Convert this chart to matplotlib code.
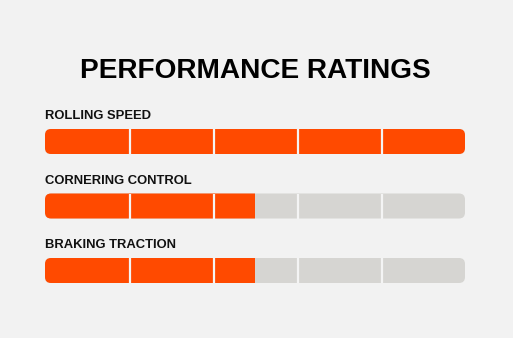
import matplotlib
matplotlib.use('Agg')
import matplotlib.pyplot as plt
from matplotlib.patches import FancyBboxPatch, Rectangle

# data
labels = ['ROLLING SPEED', 'CORNERING CONTROL', 'BRAKING TRACTION']
ratings = [5, 2.5, 2.5]
max_rating = 5
title = 'PERFORMANCE RATINGS'

BG = '#f2f2f2'
ORANGE = '#ff4a00'
TRACK = '#d6d5d2'

W, H = 513, 338
fig = plt.figure(figsize=(W / 100, H / 100), dpi=100)
fig.patch.set_facecolor(BG)

# axes spans the bar area horizontally; y in pixels from top
ax = fig.add_axes([45 / W, 0, 420 / W, 1])
ax.set_xlim(0, max_rating)
ax.set_ylim(H, 0)
ax.axis('off')

px_per_unit = 420 / max_rating
radius = 6 / px_per_unit
bar_h = 25
bar_tops = [129, 193.5, 258]
label_base = [119, 183.5, 248.3]

for lab, val, top, lb in zip(labels, ratings, bar_tops, label_base):
    ax.text(0, lb, lab, fontsize=9.4, fontweight='bold', family='Liberation Sans',
            color='#111111', va='baseline', ha='left')
    track = FancyBboxPatch((0, top), max_rating, bar_h,
                           boxstyle=f'round,pad=0,rounding_size={radius}',
                           mutation_aspect=px_per_unit, fc=TRACK, ec='none')
    ax.add_patch(track)
    fill = FancyBboxPatch((0, top), max_rating, bar_h,
                          boxstyle=f'round,pad=0,rounding_size={radius}',
                          mutation_aspect=px_per_unit, fc=ORANGE, ec='none')
    ax.add_patch(fill)
    clip = Rectangle((0, top - 1), val, bar_h + 2, transform=ax.transData)
    fill.set_clip_path(clip)
    for k in range(1, max_rating):
        ax.plot([k + 0.01, k + 0.01], [top, top + bar_h], color='#f4f4f4', lw=1.6,
                solid_capstyle='butt')

fig.text(255 / W, 1 - 77.7 / H, title, fontsize=20.2, fontweight='bold',
         family='Liberation Sans', color='black', ha='center', va='baseline')

fig.savefig('out.png', dpi=100, facecolor=BG)
